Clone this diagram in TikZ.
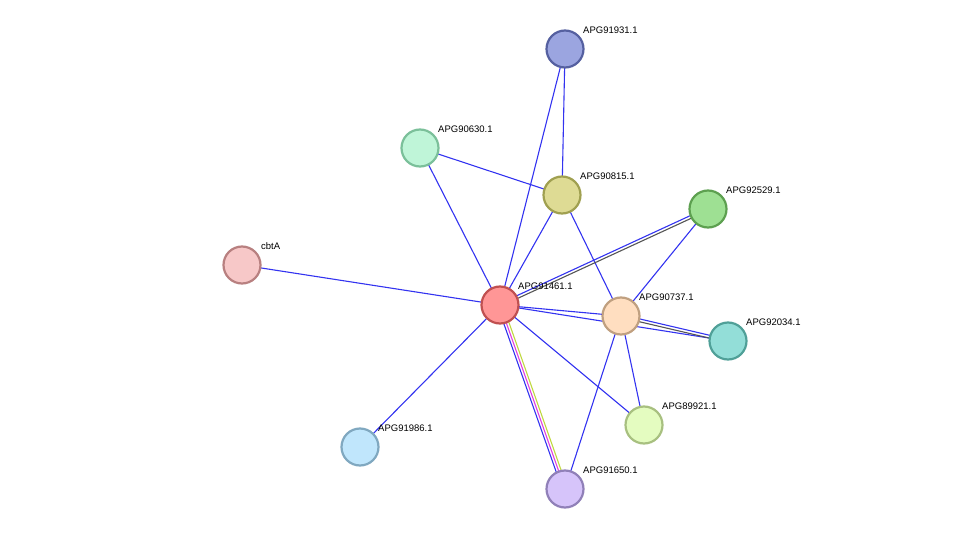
\documentclass[tikz,border=0pt]{standalone}
\usepackage{fontspec}
\setmainfont{Liberation Sans}
\usetikzlibrary{calc}
\definecolor{eb}{HTML}{3333F0}
\definecolor{eg}{HTML}{555555}
\definecolor{ey}{HTML}{C0D840}
\definecolor{em}{HTML}{E040E0}
\definecolor{fa}{HTML}{9BA5E0}\definecolor{sa}{HTML}{5560A0}
\definecolor{fb}{HTML}{BFF5D8}\definecolor{sb}{HTML}{7BC09A}
\definecolor{fc}{HTML}{DEDB94}\definecolor{sc}{HTML}{A0A050}
\definecolor{fd}{HTML}{9EE093}\definecolor{sd}{HTML}{5DA050}
\definecolor{fe}{HTML}{F7C8C8}\definecolor{se}{HTML}{B88080}
\definecolor{ff}{HTML}{FF9696}\definecolor{sf}{HTML}{C05050}
\definecolor{fg}{HTML}{FFDEC0}\definecolor{sg}{HTML}{C0A080}
\definecolor{fh}{HTML}{93DED8}\definecolor{sh}{HTML}{50A098}
\definecolor{fi}{HTML}{E4FCC0}\definecolor{si}{HTML}{A8C080}
\definecolor{fj}{HTML}{C0E6FC}\definecolor{sj}{HTML}{80A8C0}
\definecolor{fk}{HTML}{D6C4FA}\definecolor{sk}{HTML}{9080B8}
\tikzset{
  prot/.style={circle,minimum size=37pt,inner sep=0pt,line width=2.2pt,fill=f#1,draw=s#1},
  lab/.style={font=\fontsize{9.5}{11}\selectfont,anchor=south west,inner sep=0pt},
  ed/.style={line width=1.1pt,eb},
}
\newcommand{\pedge}[4]{\draw[line width=1.1pt,#4] ($(#1)!#3!90:(#2)$) -- ($(#2)!#3!-90:(#1)$);}
\begin{document}
\begin{tikzpicture}[x=1pt,y=-1pt]
\useasboundingbox (0,0) rectangle (975,535);
\coordinate (a) at (565,49);
\coordinate (b) at (420,148);
\coordinate (c) at (562,195);
\coordinate (d) at (708,209);
\coordinate (e) at (242,265);
\coordinate (f) at (500,305);
\coordinate (g) at (621,316);
\coordinate (h) at (728,341);
\coordinate (i) at (644,425);
\coordinate (j) at (360,447);
\coordinate (k) at (565,489);
\draw[ed] (f)--(a);
\draw[ed] (a)--(c);
\draw[ed] (b)--(c);
\draw[ed] (b)--(f);
\draw[ed] (c)--(f);
\draw[ed] (c)--(g);
\pedge{f}{d}{1.4pt}{eb}
\pedge{f}{d}{-1.4pt}{eg}
\draw[ed] (d)--(g);
\draw[ed] (e)--(f);
\draw[ed] (f)--(g);
\draw[ed] (f)--(h);
\pedge{g}{h}{1.4pt}{eb}
\pedge{g}{h}{-1.4pt}{eg}
\draw[ed] (f)--(i);
\draw[ed] (g)--(i);
\draw[ed] (g)--(k);
\pedge{f}{k}{2.6pt}{ey}
\pedge{f}{k}{0pt}{em}
\pedge{f}{k}{-2.6pt}{eb}
\draw[ed] (f)--(j);
\node[prot=a] (na) at (a) {};
\node[prot=b] (nb) at (b) {};
\node[prot=c] (nc) at (c) {};
\node[prot=d] (nd) at (d) {};
\node[prot=e] (ne) at (e) {};
\node[prot=f] (nf) at (f) {};
\node[prot=g] (ng) at (g) {};
\node[prot=h] (nh) at (h) {};
\node[prot=i] (ni) at (i) {};
\node[prot=j] (nj) at (j) {};
\node[prot=k] (nk) at (k) {};
\node[lab] at ($(a)+(18,-15)$) {APG91931.1};
\node[lab] at ($(b)+(18,-15)$) {APG90630.1};
\node[lab] at ($(c)+(18,-15)$) {APG90815.1};
\node[lab] at ($(d)+(18,-15)$) {APG92529.1};
\node[lab] at ($(e)+(19,-15)$) {cbtA};
\node[lab] at ($(f)+(18,-15)$) {APG91461.1};
\node[lab] at ($(g)+(18,-15)$) {APG90737.1};
\node[lab] at ($(h)+(18,-15)$) {APG92034.1};
\node[lab] at ($(i)+(18,-15)$) {APG89921.1};
\node[lab] at ($(j)+(18,-15)$) {APG91986.1};
\node[lab] at ($(k)+(18,-15)$) {APG91650.1};
\end{tikzpicture}
\end{document}
